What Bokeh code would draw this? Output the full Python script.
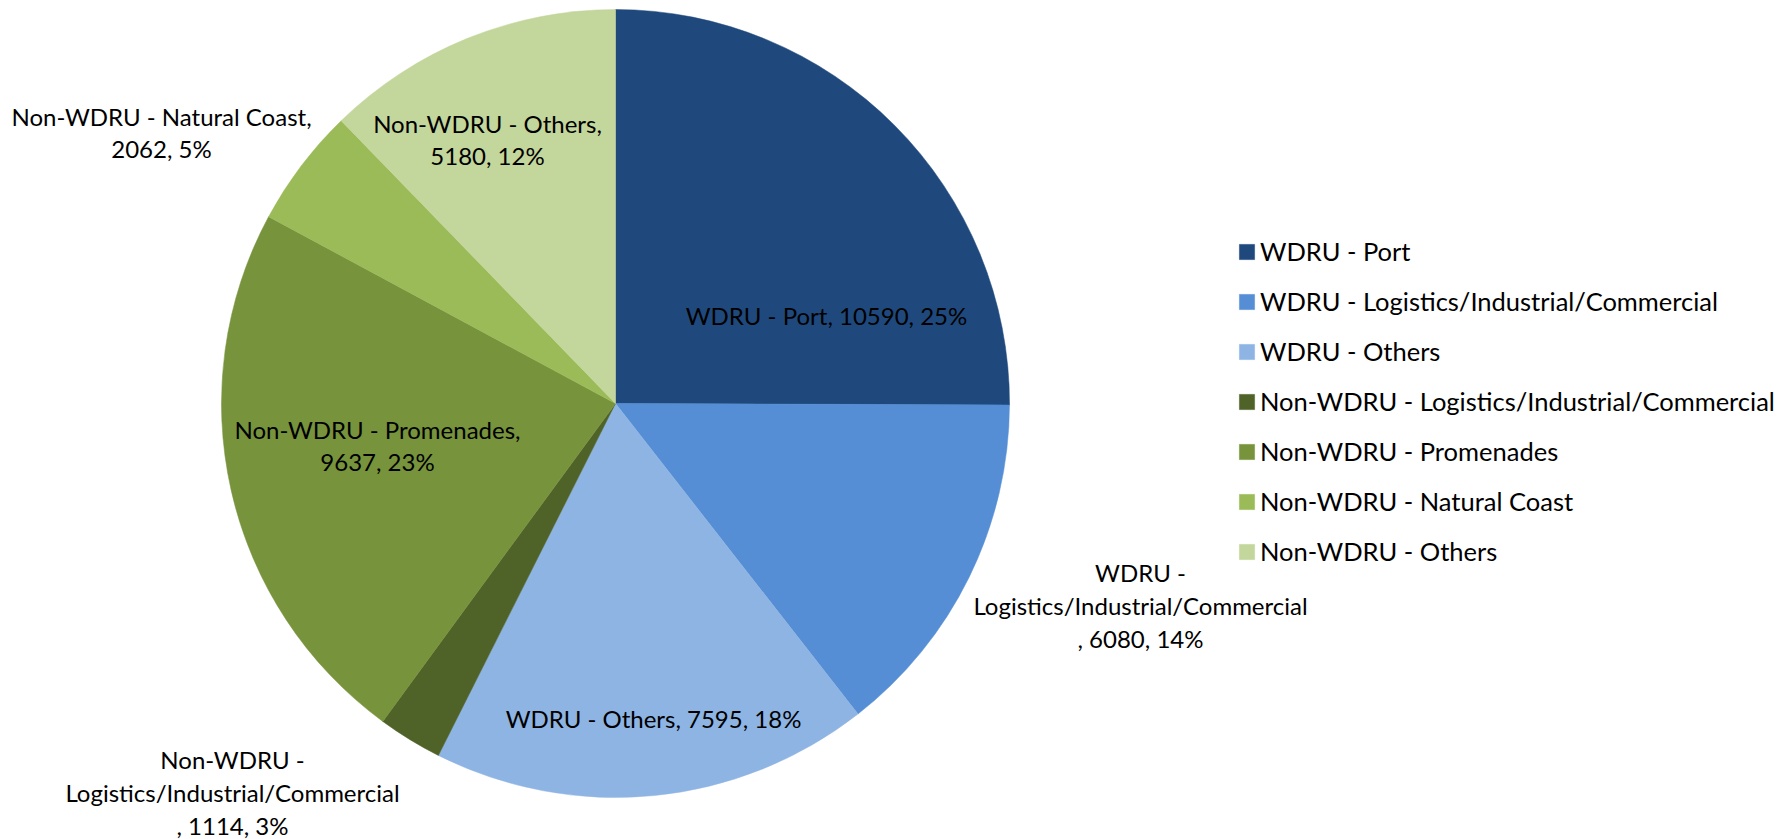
import math
from bokeh.plotting import figure
from bokeh.models import ColumnDataSource, Range1d, Legend, LegendItem
from bokeh.core.properties import value
from bokeh.embed import file_html
from bokeh.resources import INLINE

# ---- data ----
categories = [
    "WDRU - Port",
    "WDRU - Logistics/Industrial/Commercial",
    "WDRU - Others",
    "Non-WDRU - Logistics/Industrial/Commercial",
    "Non-WDRU - Promenades",
    "Non-WDRU - Natural Coast",
    "Non-WDRU - Others",
]
values = [10590, 6080, 7595, 1114, 9637, 2062, 5180]

# ---- style / layout ----
colors = ["#1F497D", "#558ED5", "#8EB4E3", "#4F6228", "#77933C", "#9BBB59", "#C3D69B"]
wrap_mode = ["one", "three", "one", "three", "two", "two", "two"]
label_offsets = [(211, 88), (525, -202), (38, -315), (-383, -389), (-238, -42), (-454, 271), (-128, 264)]
FONT = "Lato"
LABEL_FS = "24px"
LEGEND_FS = "25.5px"

W, H = 1791, 839
CX, CY, R = 615, 436, 394

total = sum(values)
starts, ends, texts = [], [], []
cum = 0.0
for name, v, mode in zip(categories, values, wrap_mode):
    a0 = math.pi / 2 - 2 * math.pi * cum / total
    cum += v
    a1 = math.pi / 2 - 2 * math.pi * cum / total
    starts.append(a0)
    ends.append(a1)
    pct = round(v / total * 100)
    if mode == "one":
        t = f"{name}, {v}, {pct}%"
    elif mode == "two":
        t = f"{name},\n{v}, {pct}%"
    else:
        head, tail = name.split(" - ")
        t = f"{head} -\n{tail}\n, {v}, {pct}%"
    texts.append(t)

src = ColumnDataSource(dict(name=categories, value=values, start=starts, end=ends, color=colors))

p = figure(width=W, height=H, output_backend="svg", toolbar_location=None,
           x_range=Range1d(0, W), y_range=Range1d(0, H), min_border=0)
p.axis.visible = False
p.grid.visible = False
p.outline_line_color = None

wr = p.wedge(x=CX, y=CY, radius=R, start_angle="start", end_angle="end", direction="clock",
             fill_color="color", line_color="color", line_width=0.5, source=src)

lsrc = ColumnDataSource(dict(
    x=[CX + dx for dx, dy in label_offsets],
    y=[CY + dy for dx, dy in label_offsets],
    t=texts,
))
p.text(x="x", y="y", text="t", source=lsrc, text_align="center", text_baseline="middle",
       text_font=value(FONT), text_font_size=LABEL_FS, text_color="black", text_line_height=1.13)

items = [LegendItem(label=c, renderers=[wr], index=i) for i, c in enumerate(categories)]
legend = Legend(items=items, location=(1237, 273), orientation="vertical",
                label_text_font=FONT, label_text_font_size=LEGEND_FS, label_text_color="black",
                glyph_width=19, glyph_height=19, label_height=30, spacing=20,
                label_standoff=4, padding=0, margin=0,
                border_line_color=None, background_fill_alpha=0)
p.add_layout(legend)

open("out.html", "w").write(file_html(p, INLINE))
